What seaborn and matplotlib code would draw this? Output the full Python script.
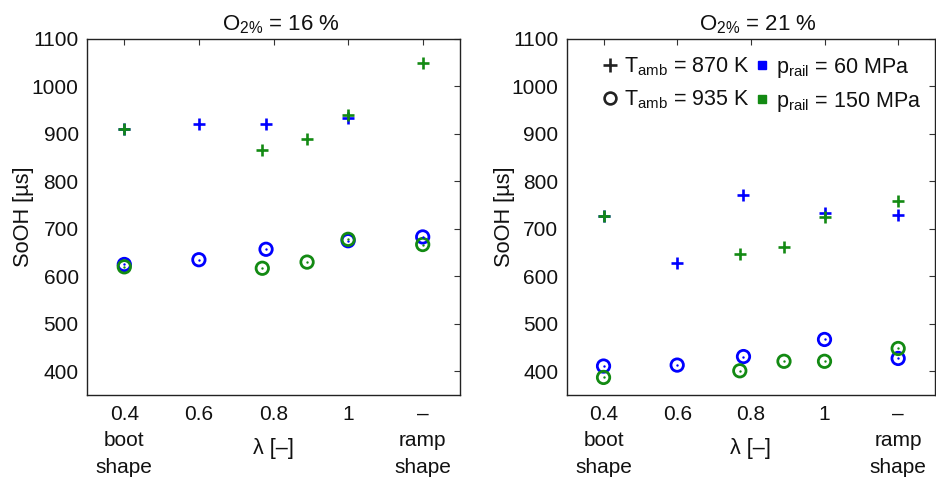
import matplotlib
matplotlib.use("Agg")
import matplotlib.pyplot as plt
from matplotlib.lines import Line2D
import seaborn as sns
import pandas as pd

# ---------------- data ----------------
tick_pos = [0.4, 0.6, 0.8, 1.0, 1.2]
tick_labels = ["0.4\nboot\nshape", "0.6", "0.8", "1", "–\nramp\nshape"]
y_ticks = [400, 500, 600, 700, 800, 900, 1000, 1100]
titles = [r"O$_{\mathregular{2\%}}$ = 16 %", r"O$_{\mathregular{2\%}}$ = 21 %"]

# O2 = 16 %
l16_870_60_x = [0.4, 0.6, 0.78, 1.0]
l16_870_60_y = [910, 920, 920, 933]
l16_870_150_x = [0.4, 0.77, 0.89, 1.0, 1.2]
l16_870_150_y = [910, 867, 890, 940, 1050]
l16_935_60_x = [0.4, 0.6, 0.78, 1.0, 1.2]
l16_935_60_y = [625, 635, 657, 675, 683]
l16_935_150_x = [0.4, 0.77, 0.89, 1.0, 1.2]
l16_935_150_y = [620, 617, 630, 678, 667]

# O2 = 21 %
l21_870_60_x = [0.4, 0.6, 0.78, 1.0, 1.2]
l21_870_60_y = [727, 629, 771, 734, 729]
l21_870_150_x = [0.4, 0.77, 0.89, 1.0, 1.2]
l21_870_150_y = [727, 648, 662, 725, 758]
l21_935_60_x = [0.4, 0.6, 0.78, 1.0, 1.2]
l21_935_60_y = [411, 413, 431, 467, 427]
l21_935_150_x = [0.4, 0.77, 0.89, 1.0, 1.2]
l21_935_150_y = [387, 401, 421, 421, 448]

BLUE = "#0000ff"
GREEN = "#138a13"

def frame(x, y, T, p):
    return pd.DataFrame({"lam": x, "sooh": y, "T": T, "p": p})

panels = [
    pd.concat([frame(l16_870_60_x, l16_870_60_y, 870, 60),
               frame(l16_870_150_x, l16_870_150_y, 870, 150),
               frame(l16_935_60_x, l16_935_60_y, 935, 60),
               frame(l16_935_150_x, l16_935_150_y, 935, 150)]),
    pd.concat([frame(l21_870_60_x, l21_870_60_y, 870, 60),
               frame(l21_870_150_x, l21_870_150_y, 870, 150),
               frame(l21_935_60_x, l21_935_60_y, 935, 60),
               frame(l21_935_150_x, l21_935_150_y, 935, 150)]),
]

# ---------------- style ----------------
sns.set_style("white")
plt.rcParams["font.family"] = ["Liberation Sans", "DejaVu Sans"]
plt.rcParams["mathtext.fontset"] = "custom"
plt.rcParams["mathtext.rm"] = "Liberation Sans"
plt.rcParams["mathtext.it"] = "Liberation Sans:italic"
plt.rcParams["axes.unicode_minus"] = False
for key in ["text.color", "axes.labelcolor", "xtick.color", "ytick.color"]:
    plt.rcParams[key] = "#111111"

W, H = 937, 486
fig = plt.figure(figsize=(W / 100, H / 100), dpi=100)
ax_rects = [
    [87 / W, (H - 395) / H, 373 / W, 356 / H],
    [566.7 / W, (H - 395) / H, 368.3 / W, 356 / H],
]
colors = {60: BLUE, 150: GREEN}

for i, (rect, df) in enumerate(zip(ax_rects, panels)):
    ax = fig.add_axes(rect)
    for p in [60, 150]:
        d = df[(df["T"] == 870) & (df["p"] == p)]
        sns.scatterplot(data=d, x="lam", y="sooh", marker="+", s=85,
                        color=colors[p], linewidth=1.9, ax=ax, zorder=3)
    for p in [60, 150]:
        d = df[(df["T"] == 935) & (df["p"] == p)]
        sns.scatterplot(data=d, x="lam", y="sooh", marker="o", s=80,
                        color=colors[p], linewidth=2.0, ax=ax, zorder=3)
        coll = ax.collections[-1]
        coll.set_facecolor("none")
        coll.set_edgecolor(colors[p])
        sns.scatterplot(data=d, x="lam", y="sooh", marker="o", s=3,
                        color=colors[p], linewidth=0, ax=ax, zorder=4)

    ax.set_xlim(0.3, 1.3)
    ax.set_ylim(350, 1100)
    ax.set_xticks(tick_pos)
    ax.set_xticklabels(tick_labels, fontsize=15, linespacing=1.5)
    ax.set_yticks(y_ticks)
    ax.set_yticklabels([str(v) for v in y_ticks], fontsize=15)
    ax.tick_params(axis="both", direction="in", length=4, width=0.8,
                   top=True, right=True, color="#333333")
    ax.tick_params(axis="x", pad=7)
    ax.tick_params(axis="y", pad=6)
    for sp in ax.spines.values():
        sp.set_color("#222222")
        sp.set_linewidth(1.0)
    ax.set_xlabel("λ [–]", fontsize=15.5)
    ax.xaxis.label.set_va("center")
    ax.xaxis.set_label_coords(0.5, -0.149)
    ax.set_ylabel("SoOH [µs]", fontsize=15.7)
    ax.yaxis.label.set_va("center")
    ax.yaxis.set_label_coords(-0.17, 0.5)
    ax.set_title(titles[i], fontsize=16, x=0.52, pad=6)

    if i == 1:
        handles = [
            Line2D([], [], ls="none", marker="+", color="#222222", ms=9.5, mew=1.9),
            Line2D([], [], ls="none", marker="o", mfc="none", color="#222222",
                   ms=8.5, mew=1.9),
            Line2D([], [], ls="none", marker="s", color=BLUE, ms=6),
            Line2D([], [], ls="none", marker="s", color=GREEN, ms=6),
        ]
        labels = [r"T$_{\mathregular{amb}}$ = 870 K",
                  r"T$_{\mathregular{amb}}$ = 935 K",
                  r"p$_{\mathregular{rail}}$ = 60 MPa",
                  r"p$_{\mathregular{rail}}$ = 150 MPa"]
        ax.legend(handles, labels, ncol=2, frameon=False, fontsize=15.5,
                  loc="upper left", bbox_to_anchor=(0.06, 0.995),
                  handlelength=0.6, handletextpad=0.35, columnspacing=0.25,
                  labelspacing=0.45, borderaxespad=0.3)

fig.savefig("out.png", dpi=100)
